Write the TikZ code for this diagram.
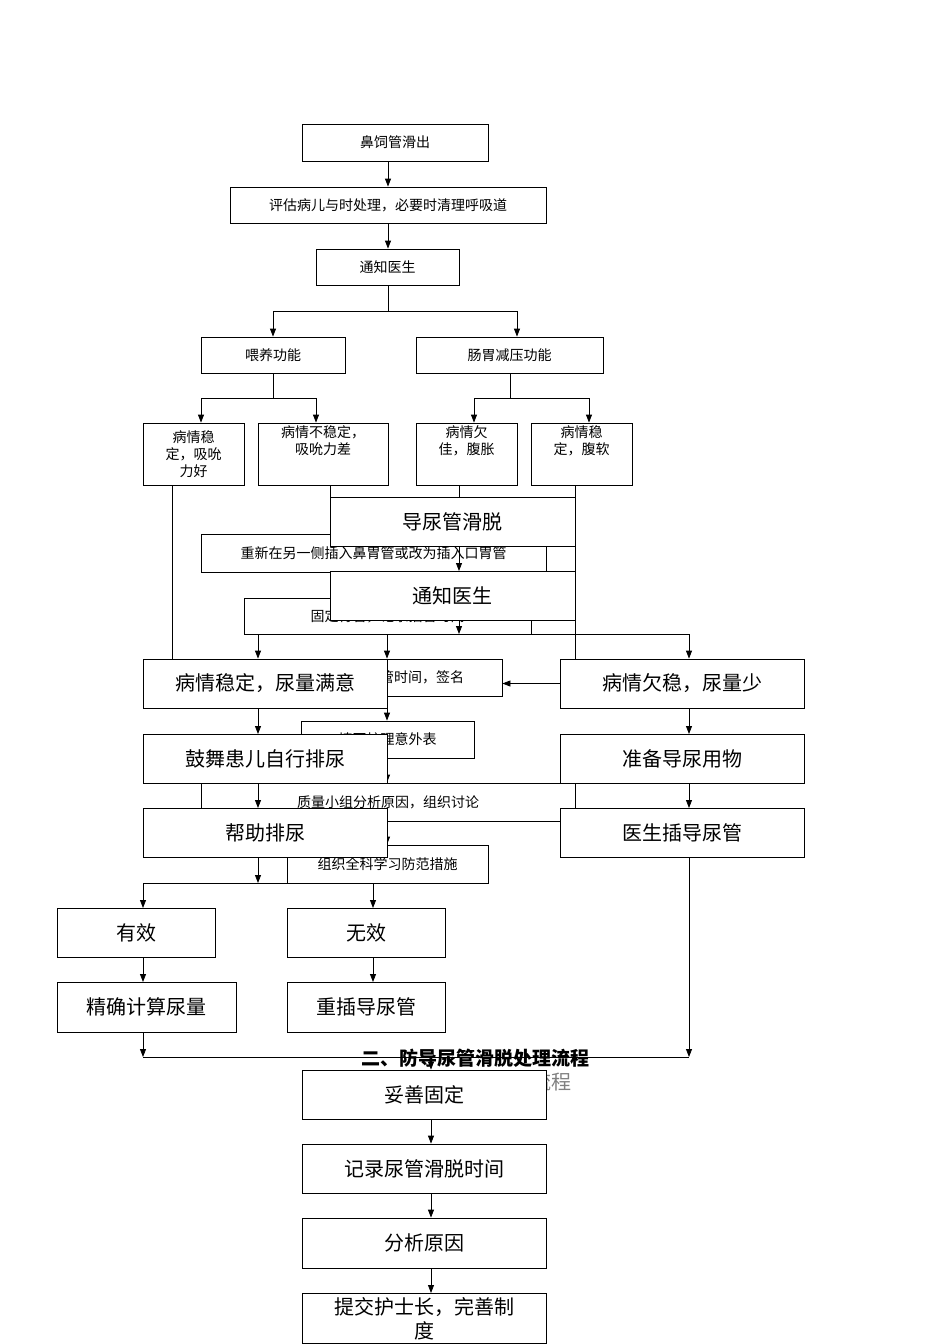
\documentclass[tikz,border=0pt]{standalone}
\usepackage{fontspec}
\setmainfont{Noto Sans CJK SC}
\usetikzlibrary{arrows.meta}
\newcommand\bx[7][sm]{\node[#1, minimum width={(#5-#3)*1pt}, minimum height={(#6-#4)*1pt}] (#2) at ({(#3+#5)/2},{(#4+#6)/2}) {#7};}
\begin{document}
\begin{tikzpicture}[x=1pt,y=-1pt,
  sm/.style={draw,fill=white,line width=0.8pt,inner sep=1pt,align=center,font=\fontsize{14}{17}\selectfont},
  bg/.style={sm,font=\fontsize{20}{24}\selectfont},
  ln/.style={line width=0.8pt},
  ar/.style={line width=0.8pt,-{Triangle[length=8pt,width=6pt]}}]
\useasboundingbox (0,0) rectangle (950,1344);
% ---- first chart ----
\bx{A}{302}{124}{488}{161}{鼻饲管滑出}
\bx{B}{230}{187}{546}{223}{评估病儿与时处理，必要时清理呼吸道}
\bx{C}{316}{249}{459}{285}{通知医生}
\bx{D}{201}{337}{345}{373}{喂养功能}
\bx{E}{416}{337}{603}{373}{肠胃减压功能}
\bx{F1}{143}{423}{244}{485}{病情稳\\定，吸吮\\力好}
\bx{F2}{258}{423}{388}{485}{病情不稳定，\\吸吮力差\\[10pt]}
\bx{F3}{416}{423}{517}{485}{病情欠\\佳，腹胀\\[10pt]}
\bx{F4}{531}{423}{632}{485}{病情稳\\定，腹软\\[10pt]}
\draw[ar] (A.south -| 388,0) -- (B.north -| 388,0);
\draw[ar] (B.south -| 388,0) -- (C.north -| 388,0);
\draw[ln] (C.south -| 388,0) -- (388,311);
\draw[ln] (273,311) -- (517,311);
\draw[ar] (273,311) -- (D.north -| 273,0);
\draw[ar] (517,311) -- (E.north -| 517,0);
\draw[ln] (D.south -| 273,0) -- (273,398);
\draw[ln] (201,398) -- (316,398);
\draw[ar] (201,398) -- (F1.north -| 201,0);
\draw[ar] (316,398) -- (F2.north -| 316,0);
\draw[ln] (E.south -| 510,0) -- (510,398);
\draw[ln] (474,398) -- (589,398);
\draw[ar] (474,398) -- (F3.north -| 474,0);
\draw[ar] (589,398) -- (F4.north -| 589,0);
\draw[ln] (172,485) -- (172,659);
\draw[ln] (330,485) -- (330,497);
\draw[ln] (459,485) -- (459,497);
\draw[ln] (575,485) -- (575,659);
\bx{G}{201}{534}{546}{572}{重新在另一侧插入鼻胃管或改为插入口胃管}
\bx{I}{244}{598}{531}{634}{固定胃管，记录插管时间}
\bx{K}{300}{659}{502}{696}{记录插管时间，签名}
\bx{K2}{301}{721}{474}{758}{填写护理意外表}
\bx{Qa}{201}{783}{575}{821}{质量小组分析原因，组织讨论}
\bx{Qb}{287}{845}{488}{883}{组织全科学习防范措施}
\draw[ar] (387,634) -- (K.north -| 387,0);
\draw[ar] (387,696) -- (K2.north -| 387,0);
\draw[ar] (387,758) -- (Qa.north -| 387,0);
\draw[ar] (387,821) -- (Qb.north -| 387,0);
\draw[ln] (Qa.south east) -- (560,821);
% ---- second chart ----
\bx[bg]{H1}{330}{497}{575}{546}{导尿管滑脱}
\bx[bg]{H2}{330}{571}{575}{620}{通知医生}
\draw[ar] (459,546) -- (459,571);
\draw[ar] (459,620) -- (459,634);
\draw[ln] (258,634) -- (689,634);
\bx[bg]{J}{143}{659}{387}{708}{病情稳定，尿量满意}
\bx[bg]{L}{560}{659}{804}{708}{病情欠稳，尿量少}
\draw[ar] (258,634) -- (J.north -| 258,0);
\draw[ar] (689,634) -- (L.north -| 689,0);
\draw[ar] (L.west) -- (K.east |- L.west);
\bx[bg]{M}{143}{734}{387}{783}{鼓舞患儿自行排尿}
\bx[bg]{N}{560}{734}{804}{783}{准备导尿用物}
\bx[bg]{O}{143}{808}{387}{857}{帮助排尿}
\bx[bg]{P}{560}{808}{804}{857}{医生插导尿管}
\draw[ar] (258,708) -- (258,734);
\draw[ar] (689,708) -- (689,734);
\draw[ar] (258,783) -- (258,808);
\draw[ar] (689,783) -- (689,808);
\draw[ar] (258,857) -- (258,883);
\bx[bg]{R}{57}{908}{215}{957}{有效}
\bx[bg]{S}{287}{908}{445}{957}{无效}
\bx[bg]{R2}{57}{982}{236}{1032}{精确计算尿量}
\bx[bg]{S2}{287}{982}{445}{1032}{重插导尿管}
\draw[ln] (143,883) -- (373,883);
\draw[ar] (143,883) -- (143,908);
\draw[ar] (373,883) -- (373,908);
\draw[ar] (143,957) -- (143,982);
\draw[ar] (373,957) -- (373,982);
\draw[ar] (143,1032) -- (143,1057);
\draw[ar] (P.south -| 689,0) -- (689,1057);
\draw[ln] (143,1057) -- (689,1057);
\node[font=\fontsize{20}{24}\selectfont,text=gray,anchor=east] (t2) at (575,1082) {二、防导尿管滑脱处理流程};
\bx[bg]{T}{302}{1070}{546}{1119}{妥善固定}
\bx[bg]{U}{302}{1144}{546}{1193}{记录尿管滑脱时间}
\bx[bg]{V}{302}{1218}{546}{1268}{分析原因}
\node[bg,minimum width=244pt,minimum height=50pt,anchor=north,inner sep=3pt] (W) at (424,1293) {提交护士长，完善制\\度};
\draw[ar] (431,1057) -- (T.north -| 431,0);
\draw[ar] (431,1119) -- (U.north -| 431,0);
\draw[ar] (431,1193) -- (V.north -| 431,0);
\draw[ar] (431,1268) -- (W.north -| 431,0);
\node[font=\bfseries\fontsize{19}{22}\selectfont] (t1) at (475,1058) {二、防导尿管滑脱处理流程};
\end{tikzpicture}
\end{document}
